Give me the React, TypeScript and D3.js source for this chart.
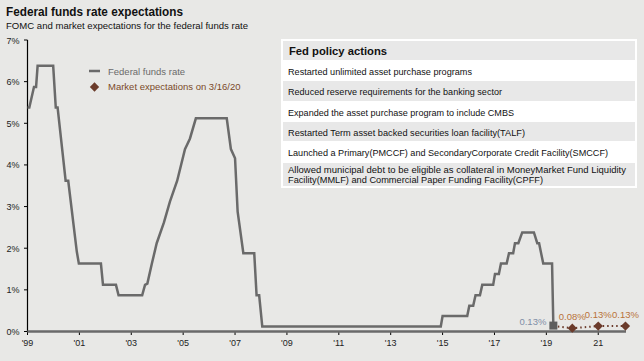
import React from 'react';
import * as d3 from 'd3';

// Federal funds rate, vertices: [year, rate %]
const fedFunds: [number, number][] = [
  [1999.0, 5.38], [1999.07, 5.38], [1999.25, 5.87], [1999.33, 5.87], [1999.39, 6.38],
  [1999.99, 6.38], [2000.09, 5.38], [2000.16, 5.38], [2000.47, 3.62], [2000.57, 3.62],
  [2000.9, 1.92], [2000.98, 1.63], [2001.83, 1.63], [2001.91, 1.12], [2002.41, 1.12],
  [2002.51, 0.87], [2003.42, 0.87], [2003.53, 1.12], [2003.62, 1.15], [2003.79, 1.62],
  [2003.98, 2.12], [2004.26, 2.62], [2004.49, 3.12], [2004.77, 3.62], [2005.07, 4.38],
  [2005.26, 4.63], [2005.49, 5.12], [2006.68, 5.12], [2006.84, 4.38], [2007.0, 4.16],
  [2007.1, 2.88], [2007.32, 1.88], [2007.74, 1.88], [2007.83, 0.87], [2007.93, 0.87],
  [2008.05, 0.12], [2014.93, 0.12], [2015.0, 0.37], [2015.95, 0.37], [2016.03, 0.62],
  [2016.18, 0.62], [2016.27, 0.87], [2016.44, 0.87], [2016.53, 1.12], [2016.95, 1.12],
  [2017.02, 1.38], [2017.17, 1.38], [2017.25, 1.63], [2017.47, 1.63], [2017.56, 1.88],
  [2017.72, 1.88], [2017.79, 2.12], [2017.92, 2.12], [2018.07, 2.38], [2018.52, 2.38],
  [2018.65, 2.12], [2018.72, 2.12], [2018.88, 1.63], [2019.22, 1.63], [2019.27, 0.12],
];

// current rate (square) and market expectations (diamonds)
const current: [number, number] = [2019.27, 0.13];
const expectations: [number, number][] = [[2020.0, 0.08], [2021.0, 0.13], [2022.05, 0.13]];
const expLabels = ['0.08%', '0.13%', '0.13%'];

const yTicks = [0, 1, 2, 3, 4, 5, 6, 7];
const xTicks = [1999, 2001, 2003, 2005, 2007, 2009, 2011, 2013, 2015, 2017, 2019, 2021];
const xTickLabels = ["'99", "'01", "'03", "'05", "'07", "'09", "'11", "'13", "'15", "'17", "'19", '21'];

const policyActions: string[][] = [
  ['Restarted unlimited asset purchase programs'],
  ['Reduced reserve requirements for the banking sector'],
  ['Expanded the asset purchase program to include CMBS'],
  ['Restarted Term asset backed securities loan facility(TALF)'],
  ['Launched a Primary(PMCCF) and SecondaryCorporate Credit Facility(SMCCF)'],
  ['Allowed municipal debt to be eligible as collateral in MoneyMarket Fund Liquidity',
    'Facility(MMLF) and Commercial Paper Funding Facility(CPFF)'],
];
// rendered widths of each table line in the original
const actionWidths: number[][] = [[184], [214], [226], [237], [320], [338, 255]];

const W = 644;
const H = 361;
const font = 'Liberation Sans, Arial, sans-serif';
const grey = '#6a6a6a';
const brown = '#6b3b2b';

export default function App() {
  const x = d3.scaleLinear().domain([1999, 2022.07]).range([27.5, 626]);
  const y = d3.scaleLinear().domain([0, 7]).range([331.5, 40]);

  const line = d3.line<[number, number]>().x(d => x(d[0])).y(d => y(d[1]));
  const dotted = line([current, ...expectations]) || '';
  const diamond = d3.symbol().type(d3.symbolDiamond2).size(55)() || '';

  // table rows
  const tx = 283;
  const tw = 352;
  const rowY = [61, 81, 102, 122, 142, 163];
  const rowH = [20, 21, 20, 20, 21, 24];

  return (
    <svg width={W} height={H} style={{ position: 'absolute', left: 0, top: 0 }} fontFamily={font}>
      <rect width={W} height={H} fill="#e8e8e6" />
      <text x={6} y={16} fontSize={13} fontWeight="bold" fill="#111" textLength={177} lengthAdjust="spacingAndGlyphs">Federal funds rate expectations</text>
      <text x={6} y={29} fontSize={9.3} fill="#111" textLength={242} lengthAdjust="spacingAndGlyphs">FOMC and market expectations for the federal funds rate</text>

      {/* y axis */}
      <line x1={27.5} x2={27.5} y1={y(7)} y2={y(0)} stroke="#000" strokeWidth={1.2} />
      {yTicks.map(t => (
        <g key={t}>
          <line x1={24} x2={27.5} y1={y(t)} y2={y(t)} stroke="#000" />
          <text x={19.5} y={y(t) + 3.5} fontSize={9} textAnchor="end" fill="#222">{t}%</text>
        </g>
      ))}

      {/* x axis */}
      {xTicks.map((t, i) => (
        <g key={t}>
          <line x1={x(t)} x2={x(t)} y1={y(0)} y2={y(0) + 3.5} stroke="#000" />
          <text x={x(t)} y={346} fontSize={9} textAnchor="middle" fill="#222">{xTickLabels[i]}</text>
        </g>
      ))}
      <line x1={x(1999)} x2={x(2022.07)} y1={y(0)} y2={y(0)} stroke={grey} strokeWidth={2.5} />

      {/* fed funds line */}
      <path d={line(fedFunds) || ''} fill="none" stroke={grey} strokeWidth={2.5} strokeLinejoin="miter" />

      {/* expectations */}
      <path d={dotted} fill="none" stroke={brown} strokeWidth={2} strokeDasharray="1.5,3" />
      <rect x={x(current[0]) - 4} y={y(current[1]) - 4.5} width={8} height={8} fill="#5e5e5e" />
      <text x={x(current[0]) - 7} y={y(current[1]) - 1} fontSize={9.5} textAnchor="end" fill="#7f8ea6">0.13%</text>
      {expectations.map((d, i) => (
        <g key={i}>
          <path d={diamond} transform={`translate(${x(d[0])},${y(d[1])})`} fill={brown} />
          <text x={x(d[0])} y={y(d[1]) - 8.5} fontSize={9.5} textAnchor="middle" fill="#b8733a">{expLabels[i]}</text>
        </g>
      ))}

      {/* legend */}
      <line x1={89} x2={100} y1={71} y2={71} stroke={grey} strokeWidth={2.5} />
      <text x={108} y={74.5} fontSize={9.5} fill={grey}>Federal funds rate</text>
      <path d={diamond} transform="translate(94.5,87)" fill={brown} />
      <text x={108} y={90} fontSize={9.5} fill="#7b4a2a">Market expectations on 3/16/20</text>

      {/* policy table */}
      <rect x={tx - 2} y={39} width={tw + 4} height={149} fill="#fff" />
      <rect x={tx} y={41} width={tw} height={19} fill="#e8e8e8" />
      <text x={289} y={55} fontSize={11.5} fontWeight="bold" fill="#111" textLength={98} lengthAdjust="spacingAndGlyphs">Fed policy actions</text>
      {policyActions.map((lines, i) => (
        <g key={i}>
          <rect x={tx} y={rowY[i]} width={tw} height={rowH[i] - 1} fill={i % 2 === 1 ? '#e8e8e8' : '#fff'} />
          {lines.map((s, j) => (
            <text key={j} x={288} y={rowY[i] + (lines.length > 1 ? 9.5 + j * 10.5 : 13.5)} fontSize={8.8} fill="#111"
              textLength={actionWidths[i][j]} lengthAdjust="spacingAndGlyphs">{s}</text>
          ))}
        </g>
      ))}
    </svg>
  );
}
